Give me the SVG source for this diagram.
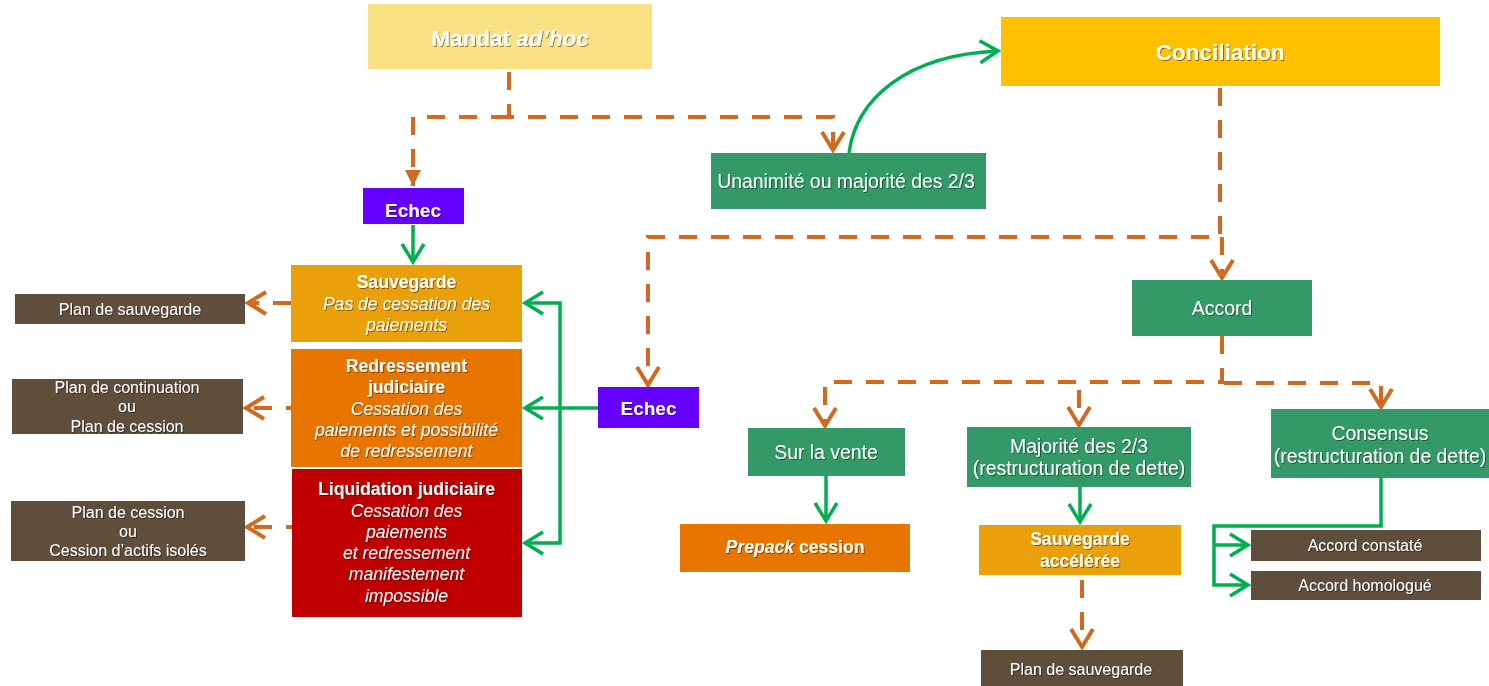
<svg xmlns="http://www.w3.org/2000/svg" width="1489" height="686" viewBox="0 0 1489 686">
<defs>
<style>
text{font-family:"Liberation Sans",Arial,sans-serif;fill:#fff;text-anchor:middle;filter:url(#sh)}
.t22{font-size:22.5px;font-weight:bold}
.t19{font-size:19.4px}
.tb{font-size:17.6px;font-weight:bold}
.ti{font-size:17.6px;font-style:italic}
.t16{font-size:16px}
.eb{font-size:19px;font-weight:bold}
.dash{fill:none;stroke:#D2691E;stroke-width:4;stroke-dasharray:18 14}
.gr{fill:none;stroke:#00B050;stroke-width:3.5}
.green{fill:#339966}.brown{fill:#5F4E3C}.violet{fill:#6600FF}
.sauv{fill:#E9A00A}.orange{fill:#E87500}.red{fill:#C00000}
</style>
<filter id="sh" x="-10%" y="-30%" width="120%" height="160%">
<feDropShadow dx="1" dy="1" stdDeviation="0.7" flood-color="#000" flood-opacity="0.45"/>
</filter>
<marker id="ov" markerUnits="userSpaceOnUse" markerWidth="30" markerHeight="30" viewBox="-22 -15 30 30" refX="0" refY="0" orient="auto" overflow="visible">
<path d="M-18,-11 L0,0 L-18,11" fill="none" stroke="#D2691E" stroke-width="4"/>
</marker>
<marker id="ot" markerUnits="userSpaceOnUse" markerWidth="24" markerHeight="24" viewBox="-18 -12 24 24" refX="0" refY="0" orient="auto" overflow="visible">
<path d="M-16,-8 L0,0 L-16,8 Z" fill="#D2691E"/>
</marker>
<marker id="gv" markerUnits="userSpaceOnUse" markerWidth="30" markerHeight="30" viewBox="-22 -15 30 30" refX="0" refY="0" orient="auto" overflow="visible">
<path d="M-18,-11 L0,0 L-18,11" fill="none" stroke="#00B050" stroke-width="3.5"/>
</marker>
</defs>
<rect width="1489" height="686" fill="#fff"/>

<g id="connectors">
<path class="dash" d="M509,72 V117 H833 V150" marker-end="url(#ov)"/>
<path class="dash" d="M509,117 H413 V186" marker-end="url(#ot)"/>
<path class="dash" d="M1220,88 V237 H648 V385" marker-end="url(#ov)"/>
<path class="dash" d="M1222,237 V278" marker-end="url(#ov)"/>
<path class="dash" d="M1222,336 V382 H825 V426" marker-end="url(#ov)"/>
<path class="dash" d="M1079,390 V425" marker-end="url(#ov)"/>
<path class="dash" d="M1224,383 H1381 V407" marker-end="url(#ov)"/>
<path class="dash" d="M1082,580 V647" marker-end="url(#ov)"/>
<path class="dash" d="M291,303 H248" marker-end="url(#ov)"/>
<path class="dash" d="M304,408 H246" marker-end="url(#ov)"/>
<path class="dash" d="M304,527 H247" marker-end="url(#ov)"/>

<path class="gr" d="M849,153 C856,100 905,55 998,51" marker-end="url(#gv)"/>
<path class="gr" d="M413,225 V262" marker-end="url(#gv)"/>
<path class="gr" d="M598,408 H525" marker-end="url(#gv)"/>
<path class="gr" d="M560,408 V303 H525" marker-end="url(#gv)"/>
<path class="gr" d="M560,408 V543 H525" marker-end="url(#gv)"/>
<path class="gr" d="M826,476 V521" marker-end="url(#gv)"/>
<path class="gr" d="M1080,487 V522" marker-end="url(#gv)"/>
<path class="gr" d="M1381,478 V526 H1214 V585 H1248" marker-end="url(#gv)"/>
<path class="gr" d="M1214,545 H1248" marker-end="url(#gv)"/>
</g>

<g id="mandat"><rect x="368" y="4" width="284" height="65" fill="#F9E184"/>
<text class="t22" x="510" y="46">Mandat <tspan font-style="italic">ad’hoc</tspan></text></g>

<g id="conciliation"><rect x="1001" y="17" width="439" height="69" fill="#FFC000"/>
<text class="t22" x="1220" y="60">Conciliation</text></g>

<g id="unanimite"><rect class="green" x="711" y="153" width="275" height="56"/>
<text class="t19" x="846" y="188">Unanimité ou majorité des 2/3</text></g>

<g id="echec1"><rect class="violet" x="363" y="188" width="101" height="36"/>
<text class="eb" x="413" y="217">Echec</text></g>

<g id="sauvegarde"><rect class="sauv" x="291" y="265" width="231" height="77"/>
<text class="tb" x="406.5" y="288">Sauvegarde</text>
<text class="ti" x="406.5" y="310">Pas de cessation des</text>
<text class="ti" x="406.5" y="331">paiements</text></g>

<g id="redressement"><rect class="orange" x="291" y="349" width="231" height="118"/>
<text class="tb" x="406.5" y="372">Redressement</text>
<text class="tb" x="406.5" y="393">judiciaire</text>
<text class="ti" x="406.5" y="415">Cessation des</text>
<text class="ti" x="406.5" y="436">paiements et possibilité</text>
<text class="ti" x="406.5" y="457">de redressement</text></g>

<g id="liquidation"><rect class="red" x="292" y="469" width="230" height="148"/>
<text class="tb" x="406.5" y="495">Liquidation judiciaire</text>
<text class="ti" x="406.5" y="517">Cessation des</text>
<text class="ti" x="406.5" y="538">paiements</text>
<text class="ti" x="406.5" y="559">et redressement</text>
<text class="ti" x="406.5" y="580">manifestement</text>
<text class="ti" x="406.5" y="602">impossible</text></g>

<g id="plan-sauvegarde-1"><rect class="brown" x="15" y="294" width="230" height="30"/>
<text class="t16" x="130" y="315">Plan de sauvegarde</text></g>

<g id="plan-continuation"><rect class="brown" x="12" y="379" width="231" height="55"/>
<text class="t16" x="127" y="393">Plan de continuation</text>
<text class="t16" x="127" y="412">ou</text>
<text class="t16" x="127" y="432">Plan de cession</text></g>

<g id="plan-cession"><rect class="brown" x="11" y="501" width="234" height="60"/>
<text class="t16" x="128" y="518">Plan de cession</text>
<text class="t16" x="128" y="537">ou</text>
<text class="t16" x="128" y="556">Cession d’actifs isolés</text></g>

<g id="echec2"><rect class="violet" x="598" y="387" width="101" height="41"/>
<text class="eb" x="648.5" y="415">Echec</text></g>

<g id="accord"><rect class="green" x="1132" y="280" width="180" height="56"/>
<text class="t19" x="1222" y="315">Accord</text></g>

<g id="sur-la-vente"><rect class="green" x="748" y="428" width="157" height="48"/>
<text class="t19" x="826" y="459">Sur la vente</text></g>

<g id="majorite"><rect class="green" x="967" y="427" width="224" height="60"/>
<text class="t19" x="1079" y="453">Majorité des 2/3</text>
<text class="t19" x="1079" y="475">(restructuration de dette)</text></g>

<g id="consensus"><rect class="green" x="1271" y="409" width="218" height="69"/>
<text class="t19" x="1380" y="440">Consensus</text>
<text class="t19" x="1380" y="463">(restructuration de dette)</text></g>

<g id="prepack"><rect class="orange" x="680" y="524" width="230" height="48"/>
<text class="tb" x="795" y="553"><tspan font-style="italic">Prepack</tspan> cession</text></g>

<g id="sauvegarde-acceleree"><rect class="sauv" x="979" y="525" width="202" height="50"/>
<text class="tb" x="1080" y="545">Sauvegarde</text>
<text class="tb" x="1080" y="567">accélérée</text></g>

<g id="plan-sauvegarde-2"><rect class="brown" x="981" y="650" width="202" height="36"/>
<text class="t16" x="1081" y="675">Plan de sauvegarde</text></g>

<g id="accord-constate"><rect class="brown" x="1251" y="530" width="230" height="31"/>
<text class="t16" x="1365" y="551">Accord constaté</text></g>

<g id="accord-homologue"><rect class="brown" x="1251" y="571" width="230" height="29"/>
<text class="t16" x="1365" y="591">Accord homologué</text></g>
</svg>
